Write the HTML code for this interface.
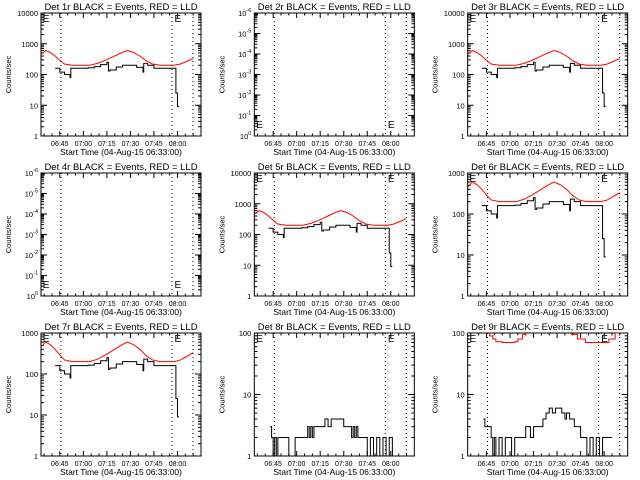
<!DOCTYPE html>
<html><head><meta charset="utf-8"><style>
body{margin:0;background:#fff;}
svg{display:block;font-family:"Liberation Sans",sans-serif;}
</style></head><body>
<svg id="c" width="640" height="480" viewBox="0 0 640 480"></svg>
<script>
// time in minutes after 06:33:00
const tickLabels = ["06:45","07:00","07:15","07:30","07:45","08:00"];
const tickMinutes = [12,27,42,57,72,87];
const markerMinutes = [12.7,83.5,96.9];
const detNames = ["1r","2r","3r","4r","5r","6r","7r","8r","9r"];
const redT = [0,3,6,9,12,15,20,25,31,36,41,46,51,55,59,63,67,71,76,80,85,89,93,97];
const redV = [450,600,520,400,290,220,200,200,200,230,290,380,500,600,520,400,280,220,200,200,200,220,270,330];
const blackT = [9,12,15,18.5,19,25,30,34,38,42,43,44,48,52,57,61,65,65.5,68,72,80,85,86,87,88];
const blackV = [160,120,100,80,160,160,165,180,210,250,130,140,175,200,200,170,120,230,200,160,160,160,25,9,9];
const b8T = [10,11,12,13,14,15,16,18,22,26,30,33,34,35,36,37,38,40,43,45,47,49,50,52,54,56,57,59,61,62,63,64,65,66,67,68,70,72,74,76,78,80,82,84,86,88];
const b8V = [3,2,1,2,1,2,2,2,1,2,2,2,3,2,3,2,3,3,3,4,3,4,4,4,4,4,3,3,3,2,3,2,3,2,2,2,2,1,2,1,2,1,2,1,2,1];
const b9T = [10,11,14,15,16,17,18,20,22,24,26,28,30,33,35,37,38,40,42,44,46,48,50,52,54,56,58,60,62,63,65,68,72,74,76,78,80,82,84,86,88,92];
const b9V = [4,3,3,2,1,2,1,2,1,2,2,1,2,2,2,3,3,2,3,3,3,4,5,6,5,6,6,5,4,5,4,3,2,2,1,2,1,2,1,2,2,2];
const r9T = [10,12,14,16,18,22,26,30,32,35,37,62,64,66,70,75,80,86,90,94,97];
const r9V = [140,110,90,80,72,70,70,72,80,95,110,120,110,95,80,70,70,70,80,100,120];
// y ranges: [log min, log max]
const yRanges = [[0,4],[0,6],[0,4],[0,6],[0,4],[0,3],[0,3],[0,2],[0,2]];
const NS="http://www.w3.org/2000/svg";
const svg=document.getElementById('c');
function mk(tag,attrs,parent){const e=document.createElementNS(NS,tag);for(const k in attrs)e.setAttribute(k,attrs[k]);(parent||svg).appendChild(e);return e;}
const T0=0,T1=102,W=160,H=123;
for(let p=0;p<9;p++){
  const col=p%3,row=Math.floor(p/3);
  const x0=41+col*213.33,y0=13+row*160;
  const g=mk('g',{});
  
  
  const xs=t=>x0+(t-T0)/(T1-T0)*W;
  const [lmin,lmax]=yRanges[p];
  const ys=v=>y0+H-(Math.log10(v)-lmin)/(lmax-lmin)*H;
  const clip='cl'+p;
  const cp=mk('clipPath',{id:clip},g);mk('rect',{x:x0,y:y0,width:W,height:H},cp);
  const tt=mk('text',{x:x0+W/2,y:y0-3,'text-anchor':'middle','font-size':9.5},g);
  tt.textContent='Det '+detNames[p]+' BLACK = Events, RED = LLD';
  
  
  const box=mk('rect',{x:x0,y:y0,width:W,height:H,fill:'none',stroke:'#000','stroke-width':1},g);
  
  
  for(let m=2;m<T1;m+=5){
    const x=xs(m),maj=tickMinutes.includes(m);const L=maj?5:2.5;
    mk('line',{x1:x,x2:x,y1:y0+H,y2:y0+H-L,stroke:'#000'},g);
    mk('line',{x1:x,x2:x,y1:y0,y2:y0+L,stroke:'#000'},g);
  }
  tickMinutes.forEach((m,i)=>{const t=mk('text',{x:xs(m),y:y0+H+10,'text-anchor':'middle','font-size':7},g);t.textContent=tickLabels[i];
    
    });
  const xt=mk('text',{x:x0+W/2,y:y0+H+19,'text-anchor':'middle','font-size':8.5},g);
  xt.textContent='Start Time (04-Aug-15 06:33:00)';
  
  
  const yt=mk('text',{x:0,y:0,'text-anchor':'middle','font-size':7.5,transform:`translate(${x0-30},${y0+H/2}) rotate(-90)`},g);
  yt.textContent='Counts/sec';
  
  
  for(let d=lmin;d<=lmax;d++){
    const y=ys(Math.pow(10,d));
    mk('line',{x1:x0,x2:x0+6,y1:y,y2:y,stroke:'#000'},g);
    mk('line',{x1:x0+W,x2:x0+W-6,y1:y,y2:y,stroke:'#000'},g);
    if(d<lmax)for(let k=2;k<10;k++){const yy=ys(k*Math.pow(10,d));
      mk('line',{x1:x0,x2:x0+3,y1:yy,y2:yy,stroke:'#000'},g);
      mk('line',{x1:x0+W,x2:x0+W-3,y1:yy,y2:yy,stroke:'#000'},g);}
    const lab=mk('text',{x:x0-3,y:y+3,'text-anchor':'end','font-size':7.5},g);
    if(lmax===6){lab.innerHTML='10<tspan dy="-4" font-size="5.5">'+(d===0?'0':'-'+d)+'</tspan>';}
    else{lab.textContent=String(Math.pow(10,d));}
    
    
  }
  markerMinutes.forEach(m=>{const l=mk('line',{x1:xs(m),x2:xs(m),y1:y0,y2:y0+H,stroke:'#000','stroke-dasharray':'1,3'},g);
    
    });
  const ey=lmax===6?y0+H-8:y0+9;
  [0.5,84.5].forEach(m=>{const e=mk('text',{x:xs(m)+1,y:ey,'font-size':10},g);e.textContent='E';
    
    });
  const dg=mk('g',{'clip-path':`url(#${clip})`},g);
  function line(T,V,color,step,name){
    let d='';
    T.forEach((t,i)=>{const x=xs(t),y=ys(V[i]);
      if(i===0)d+=`M${x},${y}`;else if(step)d+=`H${x}V${y}`;else d+=`L${x},${y}`;});
    const pth=mk('path',{d,fill:'none',stroke:color,'stroke-width':1},dg);
    
    
  }
  if(p===1||p===3)continue;
  if(p===7){line(b8T,b8V,'#000',true,'events-series');continue;}
  if(p===8){line(r9T,r9V,'#f00',true,'lld-series');line(b9T,b9V,'#000',true,'events-series');continue;}
  line(redT,redV,'#f00',false,'lld-series');
  line(blackT,blackV,'#000',true,'events-series');
}
</script>
</body></html>
